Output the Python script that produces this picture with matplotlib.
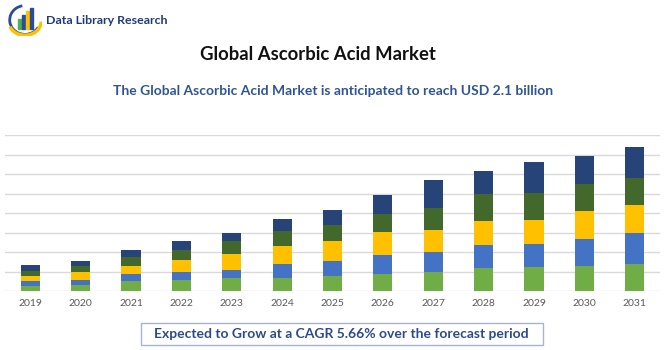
import matplotlib.pyplot as plt
import matplotlib.patches as mpatches
import numpy as np

years = ['2019', '2020', '2021', '2022', '2023', '2024', '2025',
         '2026', '2027', '2028', '2029', '2030', '2031']

# stacked segments, bottom to top (units = gridline steps)
seg_green = [0.27, 0.31, 0.50, 0.56, 0.65, 0.68, 0.78, 0.89, 0.99, 1.18, 1.22, 1.28, 1.38]
seg_blue = [0.26, 0.26, 0.37, 0.41, 0.43, 0.68, 0.78, 0.94, 0.99, 1.16, 1.19, 1.40, 1.61]
seg_yellow = [0.24, 0.41, 0.41, 0.62, 0.82, 0.97, 1.01, 1.22, 1.14, 1.23, 1.25, 1.42, 1.42]
seg_darkgreen = [0.27, 0.29, 0.48, 0.51, 0.65, 0.73, 0.81, 0.91, 1.14, 1.38, 1.37, 1.38, 1.38]
seg_navy = [0.31, 0.29, 0.34, 0.46, 0.45, 0.65, 0.78, 0.94, 1.44, 1.18, 1.57, 1.44, 1.59]

series = [seg_green, seg_blue, seg_yellow, seg_darkgreen, seg_navy]
colors = ['#70AD47', '#4472C4', '#FFC000', '#43682B', '#264478']

plt.rcParams['font.family'] = ['Lato', 'DejaVu Sans']

fig = plt.figure(figsize=(6.7, 3.5), dpi=100)
ax = fig.add_axes([5 / 670, 59 / 350, 655 / 670, 156 / 350])

x = np.arange(len(years))
bottom = np.zeros(len(years))
for vals, col in zip(series, colors):
    ax.bar(x, vals, width=0.38, bottom=bottom, color=col, zorder=3)
    bottom += np.array(vals)

ax.set_xlim(-0.5, len(years) - 0.5)
ax.set_ylim(0, 8)
ax.set_yticks(range(0, 9))
ax.yaxis.grid(True, color='#D9D9D9', linewidth=1)
ax.tick_params(axis='y', left=False, labelleft=False)
ax.tick_params(axis='x', length=0, pad=6, labelsize=7.5, labelcolor='#595959')
ax.set_xticks(x)
ax.set_xticklabels(years)
for s in ax.spines.values():
    s.set_visible(False)

# titles
fig.text(317.5 / 670, 1 - 55 / 350, 'Global Ascorbic Acid Market', ha='center', va='center',
         fontsize=13.3, fontweight='bold', color='#111111')
fig.text(333 / 670, 1 - 91 / 350, 'The Global Ascorbic Acid Market is anticipated to reach USD 2.1 billion',
         ha='center', va='center', fontsize=10, fontweight='bold', color='#2F5597')

# bottom box
fig.patches.append(mpatches.Rectangle((141 / 670, 1 - 345 / 350), 402 / 670, 22 / 350,
                                      transform=fig.transFigure, facecolor='white',
                                      edgecolor='#A6B4CE', linewidth=1))
fig.text(341 / 670, 1 - 334 / 350, 'Expected to Grow at a CAGR 5.66% over the forecast period',
         ha='center', va='center', fontsize=10, fontweight='bold', color='#2E4A8C')

# logo
lax = fig.add_axes([8 / 670, 1 - 36 / 350, 34 / 670, 32 / 350])
lax.set_xlim(0, 1)
lax.set_ylim(0, 1)
lax.axis('off')
lax.add_patch(mpatches.Arc((0.5, 0.5), 0.9, 0.9, theta1=100, theta2=330, color='#2B4C9B', linewidth=2))
lax.add_patch(mpatches.Arc((0.5, 0.45), 0.95, 0.85, theta1=200, theta2=360, color='#FFC000', linewidth=2.5))
for bx, bh, bc in zip([0.3, 0.42, 0.54, 0.66], [0.3, 0.45, 0.55, 0.65],
                      ['#4CAF50', '#2B4C9B', '#FFC000', '#2B4C9B']):
    lax.add_patch(mpatches.Rectangle((bx, 0.22), 0.08, bh, color=bc))
fig.text(46 / 670, 1 - 20 / 350, 'Data Library Research', ha='left', va='center',
         fontsize=8.9, fontweight='bold', color='#1F3A7A')

fig.savefig('out.png', dpi=100)
